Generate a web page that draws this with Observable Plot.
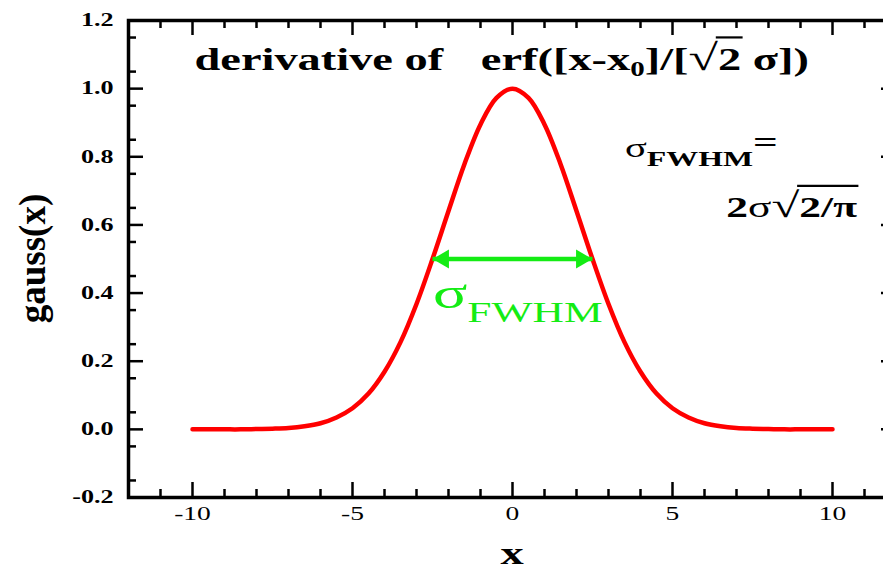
<!DOCTYPE html>
<html><head><meta charset="utf-8">
<script src="https://cdn.jsdelivr.net/npm/d3@7"></script>
<script src="https://cdn.jsdelivr.net/npm/@observablehq/plot@0.6"></script>
<style>
body{margin:0;background:#fff;}
#wrap{width:883px;height:571px;overflow:hidden;position:relative;background:#fff;}
#wrap svg{max-width:none !important;}
</style></head><body><div id="wrap"></div>
<script>
// ---- data ----
const xValues = [-10,-9.5,-9,-8.5,-8,-7.5,-7,-6.5,-6,-5.5,-5,-4.5,-4,-3.5,-3,-2.5,-2,-1.5,-1,-0.5,0,
                 0.5,1,1.5,2,2.5,3,3.5,4,4.5,5,5.5,6,6.5,7,7.5,8,8.5,9,9.5,10];
const gaussValues = [0,0,0,0,0.001,0.002,0.004,0.009,0.018,0.035,0.062,0.105,0.169,0.256,0.368,0.5,0.641,0.779,0.895,0.973,1.0,
                     0.973,0.895,0.779,0.641,0.5,0.368,0.256,0.169,0.105,0.062,0.035,0.018,0.009,0.004,0.002,0.001,0,0,0,0];
const xTickLabels = [-10,-5,0,5,10];
const xMinorTicks = [-12,-11,-9,-8,-7,-6,-4,-3,-2,-1,1,2,3,4,6,7,8,9,11,12];
const yTickLabels = [-0.2,0,0.2,0.4,0.6,0.8,1.0,1.2];
const yMinorTicks = d3.range(-0.15,1.2,0.1).map(v=>+v.toFixed(2));
const fwhmSpan = {x1:-2.5, x2:2.5, y:0.5};

const SX = 1.45;           // horizontal stretch of the original picture's glyphs
const GREEN = "#14ec14";
const RED = "#ff0000";
const W = 768, H = 477;     // plot frame size

const curve = xValues.map((x,i)=>({x, y:gaussValues[i]}));

const chart = Plot.plot({
  width: 900, height: 571,
  marginLeft: 128, marginRight: 4, marginTop: 20, marginBottom: 74,
  style: {fontFamily: "Liberation Serif", background: "white", color: "black", maxWidth: "none"},
  x: {domain: [-12, 12]},
  y: {domain: [-0.2, 1.2]},
  marks: [
    // inward ticks on all four sides
    Plot.ruleX(xTickLabels, {x: d=>d, insetTop: H-15, strokeWidth: 2.5}),
    Plot.ruleX(xMinorTicks, {x: d=>d, insetTop: H-8, strokeWidth: 2.5}),
    Plot.ruleX(xTickLabels, {x: d=>d, insetBottom: H-15, strokeWidth: 2.5}),
    Plot.ruleX(xMinorTicks, {x: d=>d, insetBottom: H-8, strokeWidth: 2.5}),
    Plot.ruleY(yTickLabels, {y: d=>d, insetRight: W-15, strokeWidth: 2.5}),
    Plot.ruleY(yMinorTicks, {y: d=>d, insetRight: W-8, strokeWidth: 2.5}),
    Plot.ruleY(yTickLabels, {y: d=>d, insetLeft: W-15, strokeWidth: 2.5}),
    Plot.ruleY(yMinorTicks, {y: d=>d, insetLeft: W-8, strokeWidth: 2.5}),
    Plot.frame({stroke: "black", strokeWidth: 3.5}),
    Plot.axisX(xTickLabels, {anchor: "bottom", tickSize: 0, tickPadding: 9, label: null,
      fontSize: 19, tickFormat: d=>String(d)}),
    Plot.axisY(yTickLabels, {anchor: "left", tickSize: 0, tickPadding: 15, label: null,
      fontSize: 18, fontWeight: "bold", tickFormat: d=>d.toFixed(1)}),
    Plot.line(curve, {x: "x", y: "y", stroke: RED, strokeWidth: 4.5, curve: "catmull-rom"}),
    Plot.link([fwhmSpan], {x1: "x1", x2: "x2", y1: "y", y2: "y", stroke: GREEN, strokeWidth: 4.5}),
    Plot.dot([fwhmSpan], {x: "x2", y: "y", symbol: "triangle", rotate: 90, r: 7, fill: GREEN, dx: -11}),
    Plot.dot([fwhmSpan], {x: "x1", y: "y", symbol: "triangle", rotate: -90, r: 7, fill: GREEN, dx: 11})
  ]
});
chart.style.maxWidth = "none";
document.getElementById("wrap").appendChild(chart);

// stretch axis tick labels like the original
chart.querySelectorAll('g[aria-label$="tick label"] text').forEach(t => {
  const tr = t.getAttribute("transform");
  if (tr) t.setAttribute("transform", tr + ` scale(${SX},1)`);
  else {
    const x = +t.getAttribute("x") || 0;
    t.setAttribute("x", 0);
    t.setAttribute("transform", `translate(${x},0) scale(${SX},1)`);
  }
});

const sx = chart.scale("x"), sy = chart.scale("y");
const svg = d3.select(chart);

function label(px, py, parts, {size, weight = "bold", anchor = "start", fill = "black", rotate = 0, stretch = SX, overY = -30}) {
  const g = svg.append("g").attr("transform", `translate(${px},${py}) scale(${stretch},1)` + (rotate ? ` rotate(${rotate})` : ""));
  const t = g.append("text")
    .attr("font-family", "Liberation Serif").attr("font-size", size)
    .attr("font-weight", weight).attr("text-anchor", anchor).attr("fill", fill);
  const overs = [];
  parts.forEach(p => {
    const ts = t.append("tspan").text(p.t);
    if (p.dx) ts.attr("dx", p.dx);
    if (p.dy) ts.attr("dy", p.dy);
    if (p.size) ts.attr("font-size", p.size);
    if (p.weight) ts.attr("font-weight", p.weight);
    if (p.over) overs.push(ts.node());
  });
  overs.forEach(n => {
    const len = n.getNumberOfChars();
    const a = n.getStartPositionOfChar(0).x;
    const b = n.getEndPositionOfChar(len - 1).x;
    g.append("line").attr("x1", a - 1.5).attr("x2", b + 1).attr("y1", overY).attr("y2", overY)
      .attr("stroke", fill).attr("stroke-width", 2.2);
  });
  return g;
}

// title
label(sx.apply(-9.92), sy.apply(1.052), [
  {t: "derivative of"},
  {t: "erf([x-x", dx: 26},
  {t: "0", dy: 6, size: 20},
  {t: "]/[", dy: -6},
  {t: "√", size: 37, weight: "normal"},
  {t: "2", over: true},
  {t: " σ])"}
], {size: 32, overY: -33});

// sigma_FWHM =
label(sx.apply(3.53), sy.apply(0.798), [
  {t: "σ", weight: "normal"},
  {t: "FWHM", size: 22, dy: 9},
  {t: "=", size: 30, dy: -14}
], {size: 28});

// 2σ√(2/π)
label(sx.apply(10.78), sy.apply(0.622), [
  {t: "2"},
  {t: "σ", weight: "normal"},
  {t: "√", size: 35, weight: "normal"},
  {t: "2/π", over: true}
], {size: 30, anchor: "end", overY: -31});

// green sigma_FWHM
label(sx.apply(-2.47), sy.apply(0.355), [
  {t: "σ"},
  {t: "FWHM", size: 30, dy: 14}
], {size: 44, weight: "normal", fill: GREEN});

// axis titles
label(sx.apply(0), 564, [{t: "x"}], {size: 32, anchor: "middle"});
label(45, sy.apply(0.5), [{t: "gauss(x)"}], {size: 37, anchor: "middle", rotate: -90, stretch: 1});
</script>
</body></html>
